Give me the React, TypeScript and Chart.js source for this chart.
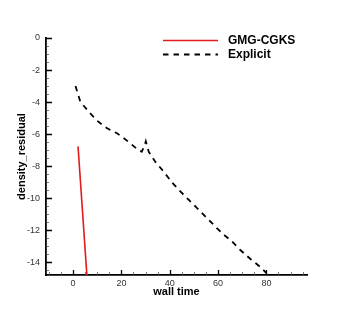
import React, { useEffect, useRef } from "react";
import { Chart, registerables } from "chart.js";

Chart.register(...registerables);

const gmgX = [2.05, 5.9];
const gmgY = [-6.77, -15.2];

const explicitX = [1.0, 3.0, 6.45, 9.9, 14.1, 18.2, 22.3, 26.5, 28.4, 29.5, 30.1, 31.3, 34.0, 37.5, 41.0, 44.4, 47.8, 51.3, 54.7, 58.2, 61.6, 65.8, 69.2, 73.4, 77.5, 80.0];
const explicitY = [-3.0, -3.98, -4.6, -5.16, -5.64, -5.95, -6.41, -6.93, -7.1, -6.75, -6.45, -7.1, -7.72, -8.35, -9.03, -9.58, -10.1, -10.62, -11.14, -11.67, -12.19, -12.71, -13.24, -13.8, -14.3, -14.68];

const xMajorTicks = [0, 20, 40, 60, 80];
const xMinorTicks = [-10, -5, 5, 10, 15, 25, 30, 35, 45, 50, 55, 65, 70, 75, 85, 90, 95];
const yMajorTicks = [-14, -12, -10, -8, -6, -4, -2, 0];
const yMinorTicks = [-14.5, -13.5, -13, -12.5, -11.5, -11, -10.5, -9.5, -9, -8.5, -7.5, -7, -6.5, -5.5, -5, -4.5, -3.5, -3, -2.5, -1.5, -1, -0.5];

const seriesLabels = ["GMG-CGKS", "Explicit"];
const xTitle = "wall time";
const yTitle = "density_residual";

const FONT = "'Liberation Sans', Arial, Helvetica, sans-serif";

const ticksAndLegend = {
  id: "ticksAndLegend",
  afterDraw(chart: any) {
    const ctx = chart.ctx;
    const xs = chart.scales.x;
    const ys = chart.scales.y;
    const area = chart.chartArea;
    ctx.save();
    ctx.strokeStyle = "#000";
    ctx.lineWidth = 1.3;
    ctx.beginPath();
    xMajorTicks.forEach((v) => {
      const px = Math.round(xs.getPixelForValue(v)) + 0.5;
      ctx.moveTo(px, area.bottom);
      ctx.lineTo(px, area.bottom - 5);
    });
    yMajorTicks.forEach((v) => {
      const py = Math.round(ys.getPixelForValue(v)) + 0.5;
      ctx.moveTo(area.left, py);
      ctx.lineTo(area.left + 6, py);
    });
    ctx.stroke();
    ctx.lineWidth = 0.8;
    ctx.strokeStyle = "#555";
    ctx.beginPath();
    xMinorTicks.forEach((v) => {
      const px = Math.round(xs.getPixelForValue(v)) + 0.5;
      ctx.moveTo(px, area.bottom);
      ctx.lineTo(px, area.bottom - 3);
    });
    yMinorTicks.forEach((v) => {
      const py = Math.round(ys.getPixelForValue(v)) + 0.5;
      ctx.moveTo(area.left, py);
      ctx.lineTo(area.left + 3, py);
    });
    ctx.stroke();

    // legend
    const lx0 = 163;
    const lx1 = 218;
    const rows = [40, 54];
    chart.data.datasets.forEach((ds: any, i: number) => {
      const y = rows[i] + 0.5;
      ctx.strokeStyle = ds.borderColor;
      ctx.lineWidth = ds.borderWidth;
      ctx.setLineDash(ds.borderDash || []);
      ctx.beginPath();
      ctx.moveTo(lx0, y);
      ctx.lineTo(lx1, y);
      ctx.stroke();
      ctx.setLineDash([]);
      ctx.fillStyle = "#000";
      ctx.font = "bold 12px " + FONT;
      ctx.textBaseline = "middle";
      ctx.textAlign = "left";
      ctx.fillText(ds.label, 228, rows[i] + 0.5);
    });
    ctx.restore();
  },
};

export default function App() {
  const ref = useRef<HTMLCanvasElement>(null);
  useEffect(() => {
    if (!ref.current) return;
    const chart = new Chart(ref.current, {
      type: "line",
      data: {
        datasets: [
          {
            label: seriesLabels[0],
            data: gmgX.map((x, i) => ({ x, y: gmgY[i] })),
            borderColor: "rgb(226,28,28)",
            borderWidth: 1.6,
            pointRadius: 0,
            tension: 0,
          },
          {
            label: seriesLabels[1],
            data: explicitX.map((x, i) => ({ x, y: explicitY[i] })),
            borderColor: "#000",
            borderWidth: 1.8,
            borderDash: [5.5, 5],
            pointRadius: 0,
            tension: 0,
          },
        ],
      },
      options: {
        animation: false,
        responsive: false,
        devicePixelRatio: 1,
        layout: { padding: { left: 0, top: 38, right: 42, bottom: 0 } },
        plugins: { legend: { display: false }, tooltip: { enabled: false } },
        scales: {
          x: {
            type: "linear",
            min: -11.2,
            max: 96.8,
            afterBuildTicks: (s: any) => {
              s.ticks = xMajorTicks.map((v) => ({ value: v }));
            },
            afterFit: (s: any) => {
              s.height = 35;
            },
            grid: { display: false, drawTicks: false },
            border: { display: true, color: "#000", width: 1.8 },
            ticks: {
              padding: 3,
              color: "#333",
              font: { family: FONT, size: 9 },
              maxRotation: 0,
              autoSkip: false,
            },
            title: {
              display: true,
              text: xTitle,
              color: "#000",
              font: { family: FONT, size: 11, weight: "bold" },
              padding: { top: 0, bottom: 11 },
            },
          },
          y: {
            type: "linear",
            min: -14.8,
            max: 0,
            afterBuildTicks: (s: any) => {
              s.ticks = yMajorTicks.map((v) => ({ value: v }));
            },
            afterFit: (s: any) => {
              s.width = 46;
            },
            grid: { display: false, drawTicks: false },
            border: { display: true, color: "#000", width: 1.8 },
            ticks: {
              padding: 6,
              color: "#333",
              font: { family: FONT, size: 9 },
              autoSkip: false,
            },
            title: {
              display: true,
              text: yTitle,
              color: "#000",
              font: { family: FONT, size: 11, weight: "bold" },
              padding: { top: 15, bottom: 0 },
            },
          },
        },
      },
      plugins: [ticksAndLegend],
    } as any);
    return () => chart.destroy();
  }, []);
  return (
    <div style={{ position: "absolute", left: 0, top: 0, width: 349, height: 310, background: "#fff" }}>
      <canvas ref={ref} width={349} height={310} style={{ width: 349, height: 310 }} />
    </div>
  );
}
